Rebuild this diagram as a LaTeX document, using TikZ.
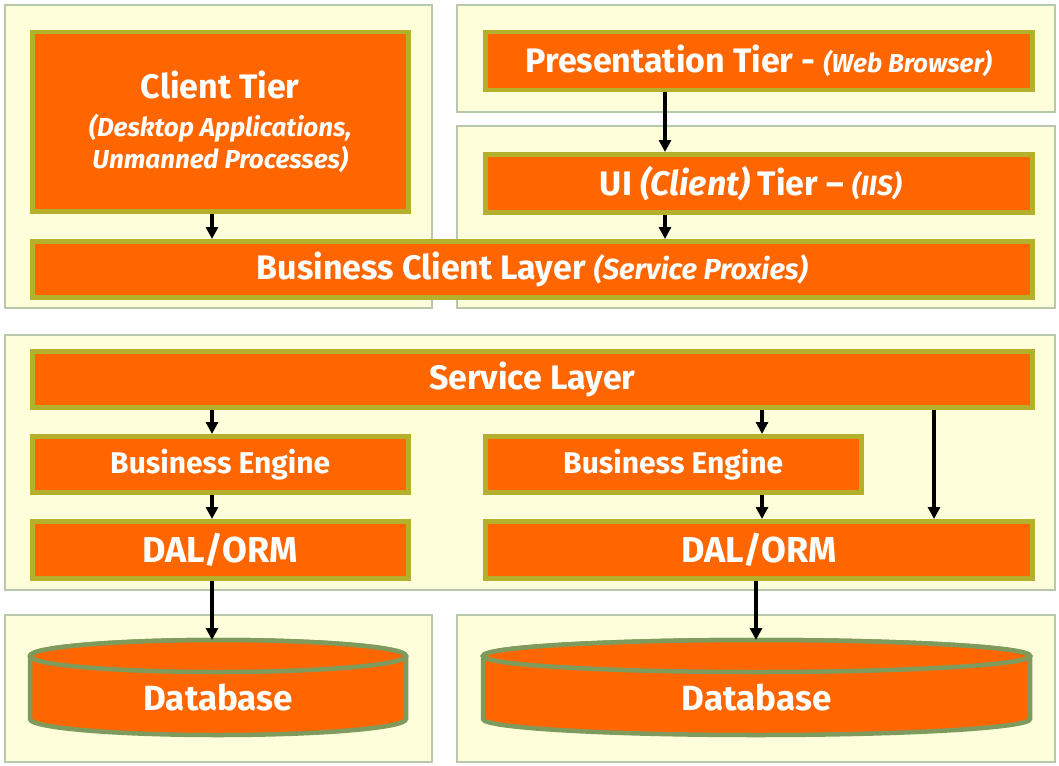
\documentclass[tikz,border=0pt]{standalone}
\usepackage{fontspec}
\setmainfont{Fira Sans}
\usetikzlibrary{positioning}
\usetikzlibrary{arrows.meta}

\definecolor{tierorange}{HTML}{FF6600}
\definecolor{tieredge}{HTML}{B4B02C}
\definecolor{dbedge}{HTML}{7E9A5C}
\definecolor{panelfill}{HTML}{FEFEDA}
\definecolor{paneledge}{HTML}{B8C8AA}

\newcommand\tiernote[2][26]{{\itshape\fontsize{#1}{32}\selectfont #2}}

\tikzset{
  panel/.style={fill=panelfill, draw=paneledge, line width=1.2pt},
  tier/.style={fill=tierorange, draw=tieredge, line width=4.5pt, text=white,
    font=\bfseries\fontsize{34}{32}\selectfont, anchor=north west,
    inner sep=0pt, align=center},
  tiersmall/.style={tier, font=\bfseries\fontsize{30}{32}\selectfont},
  tierbig/.style={tier, font=\bfseries\fontsize{36}{32}\selectfont},
  store/.style={text=white, font=\bfseries\fontsize{35}{32}\selectfont,
    anchor=north west, inner sep=0pt, minimum height=95pt,
    text height=63pt, text depth=17pt},
  dbbody/.style={fill=tierorange, draw=dbedge, line width=4.5pt},
  flow/.style={-{Triangle[length=12pt,width=12pt]}, line width=3.2pt},
}

\begin{document}
\begin{tikzpicture}[x=1pt,y=-1pt]
  \useasboundingbox (0,0) rectangle (1059,765);

  % background panels
  \draw[panel] (5,5) rectangle (432,308);
  \draw[panel] (457,5) rectangle (1055,112);
  \draw[panel] (457,126) rectangle (1055,308);
  \draw[panel] (5,335) rectangle (1055,590);
  \draw[panel] (5,615) rectangle (432,762);
  \draw[panel] (457,615) rectangle (1055,762);

  % client side
  \node[tier, minimum width=376pt, minimum height=179pt] (client) at (30,30)
    {Client Tier\\[6pt]\tiernote{(Desktop Applications,}\\\tiernote{Unmanned Processes)}};
  \node[tier, minimum width=547pt, minimum height=58pt] (pres) at (483,30)
    {Presentation Tier - \tiernote{(Web Browser)}};
  \node[tier, minimum width=547pt, minimum height=58pt] (ui) at (483,152)
    {UI \tiernote[34]{(Client)} Tier -- \tiernote[28]{(IIS)}\hspace*{16pt}};
  \node[tier, minimum width=1000pt, minimum height=56pt] (bcl) at (30,239)
    {Business Client Layer \tiernote[29]{(Service Proxies)}};

  % service side
  \node[tier, minimum width=1000pt, minimum height=56pt] (service) at (30,349) {Service Layer};
  \node[tiersmall, minimum width=376pt, minimum height=56pt] (engineL) at (30,434) {Business Engine};
  \node[tiersmall, minimum width=376pt, minimum height=56pt] (engineR) at (483,434) {Business Engine};
  \node[tierbig, minimum width=376pt, minimum height=57pt] (dalL) at (30,519) {DAL/ORM};
  \node[tierbig, minimum width=547pt, minimum height=57pt] (dalR) at (483,519) {DAL/ORM};

  % databases
  \foreach \x/\r in {30/188, 483/273.5} {
    \draw[dbbody] (\x,656) -- (\x,719)
      arc[start angle=180, end angle=0, x radius=\r, y radius=16]
      -- (\x+2*\r,656)
      arc[start angle=0, end angle=-180, x radius=\r, y radius=16] -- cycle;
    \draw[dbbody] (\x+\r,656) ellipse [x radius=\r, y radius=16];
  }
  \node[store, minimum width=376pt] (dbL) at (30,640) {Database};
  \node[store, minimum width=547pt] (dbR) at (483,640) {Database};

  % arrows
  \coordinate (xL) at (212,0);
  \coordinate (xU) at (665,0);
  \coordinate (xE) at (762,0);
  \coordinate (xS) at (934,0);
  \coordinate (xD) at (756,0);
  \draw[flow] (client.south -| xL) -- (bcl.north -| xL);
  \draw[flow] (pres.south -| xU) -- (ui.north -| xU);
  \draw[flow] (ui.south -| xU) -- (bcl.north -| xU);
  \draw[flow] (service.south -| xL) -- (engineL.north -| xL);
  \draw[flow] (engineL.south -| xL) -- (dalL.north -| xL);
  \draw[flow] (dalL.south -| xL) -- (dbL.north -| xL);
  \draw[flow] (service.south -| xE) -- (engineR.north -| xE);
  \draw[flow] (engineR.south -| xE) -- (dalR.north -| xE);
  \draw[flow] (service.south -| xS) -- (dalR.north -| xS);
  \draw[flow] (dalR.south -| xD) -- (dbR.north -| xD);
\end{tikzpicture}
\end{document}
